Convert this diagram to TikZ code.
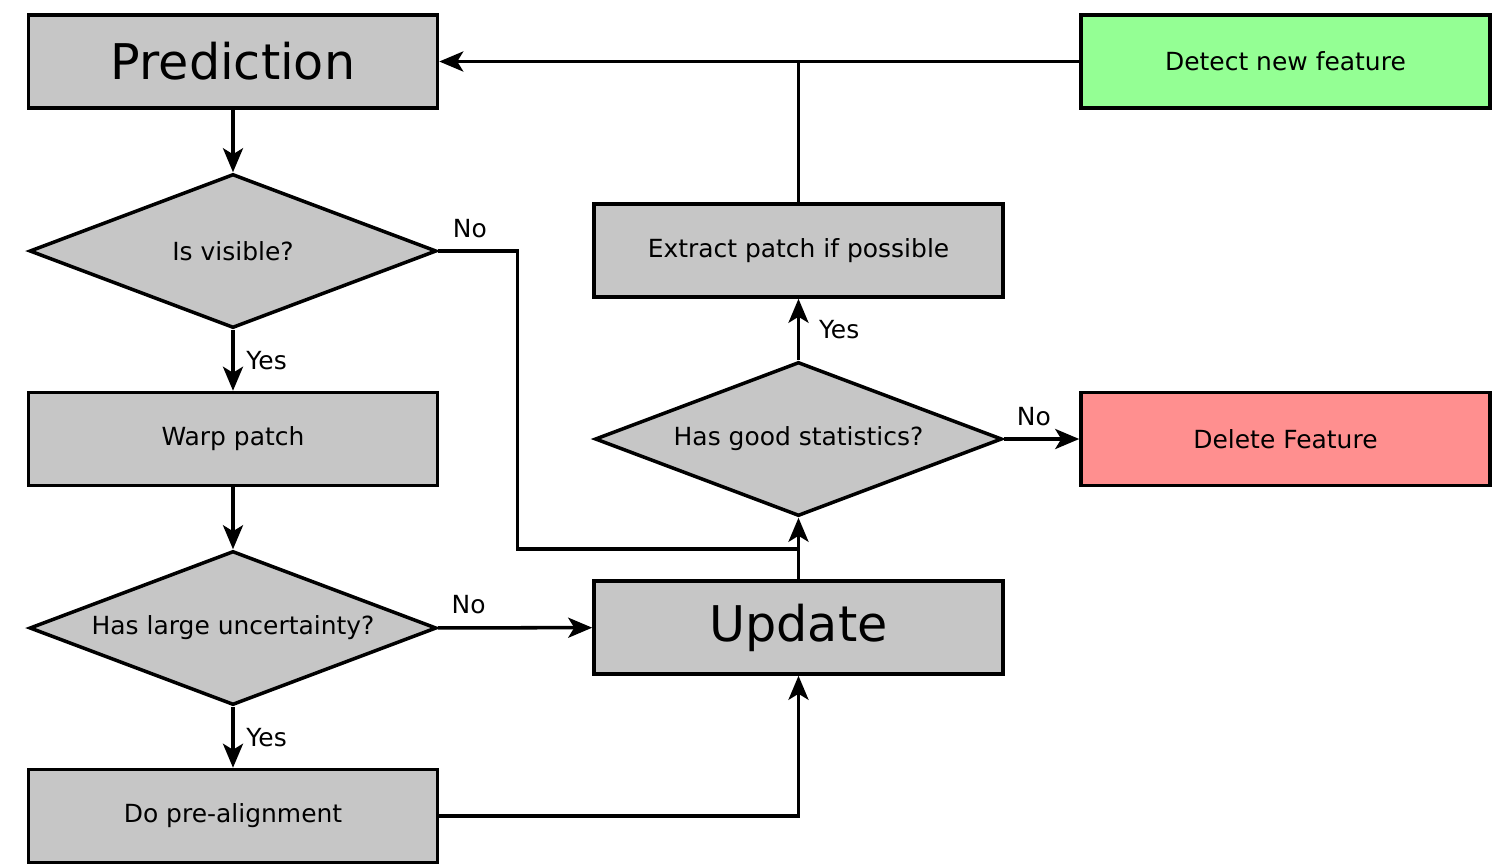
\documentclass[tikz,border=0pt]{standalone}
\usepackage{fontspec}
\setmainfont{DejaVu Sans}
\usetikzlibrary{arrows.meta,shapes.geometric}
\definecolor{boxgray}{HTML}{C6C6C6}
\definecolor{boxgreen}{HTML}{94FF94}
\definecolor{boxred}{HTML}{FF8F8F}

\begin{document}
\begin{tikzpicture}[line width=1pt,
        flow/.style={-{Stealth[length=2.4mm,width=2mm,inset=0.6mm]}},
        box/.style={draw, fill=boxgray, rectangle, minimum width=4.09cm, minimum height=0.93cm, inner sep=0pt, font=\fontsize{7.1}{8.5}\selectfont},
        bigbox/.style={box, font=\fontsize{14}{16.8}\selectfont},
        ask/.style={draw, fill=boxgray, diamond, shape aspect=2.6, minimum width=4.07cm, minimum height=1.54cm, inner sep=0pt, font=\fontsize{7.1}{8.5}\selectfont},
        lbl/.style={font=\fontsize{7.1}{8.5}\selectfont}]
    \useasboundingbox (0,0) rectangle (15,-8.65);
    \node[bigbox] (pred) at (2.33,-0.615) {Prediction};
    \node[box, fill=boxgreen] (detect) at (12.855,-0.615) {Detect new feature};
    \node[ask] (vis) at (2.33,-2.51) {Is visible?};
    \node[box] (extract) at (7.985,-2.505) {Extract patch if possible};
    \node[box] (warp) at (2.33,-4.39) {Warp patch};
    \node[ask] (stats) at (7.985,-4.39) {Has good statistics?};
    \node[box, fill=boxred] (delete) at (12.855,-4.39) {Delete Feature};
    \node[ask] (unc) at (2.33,-6.28) {Has large uncertainty?};
    \node[bigbox] (update) at (7.985,-6.275) {Update};
    \node[box] (prealign) at (2.33,-8.16) {Do pre-alignment};
    \coordinate (join) at (7.985,-5.49);
    \coordinate (top) at (7.985,-0.615);

    % left column
    \draw[flow] (pred) -- (vis);
    \draw[flow] (vis) -- node[lbl, right]{Yes} (warp);
    \draw[flow] (warp) -- (unc);
    \draw[flow] (unc) -- node[lbl, right]{Yes} (prealign);
    \draw[flow] (unc) -- node[lbl, above, pos=.2]{No} (update);
    \draw[flow] (prealign) -| (update);
    \draw (vis.east) -- node[lbl, above, pos=.4]{No} ++(0.79,0) |- (join);
    % right column
    \draw[flow] (update) -- (stats);
    \draw[flow] (stats) -- node[lbl, right, xshift=2pt]{Yes} (extract);
    \draw[flow] (stats) -- node[lbl, above, pos=.4]{No} (delete);
    \draw (extract) -- (top);
    \draw[flow] (detect) -- (pred);
\end{tikzpicture}
\end{document}
